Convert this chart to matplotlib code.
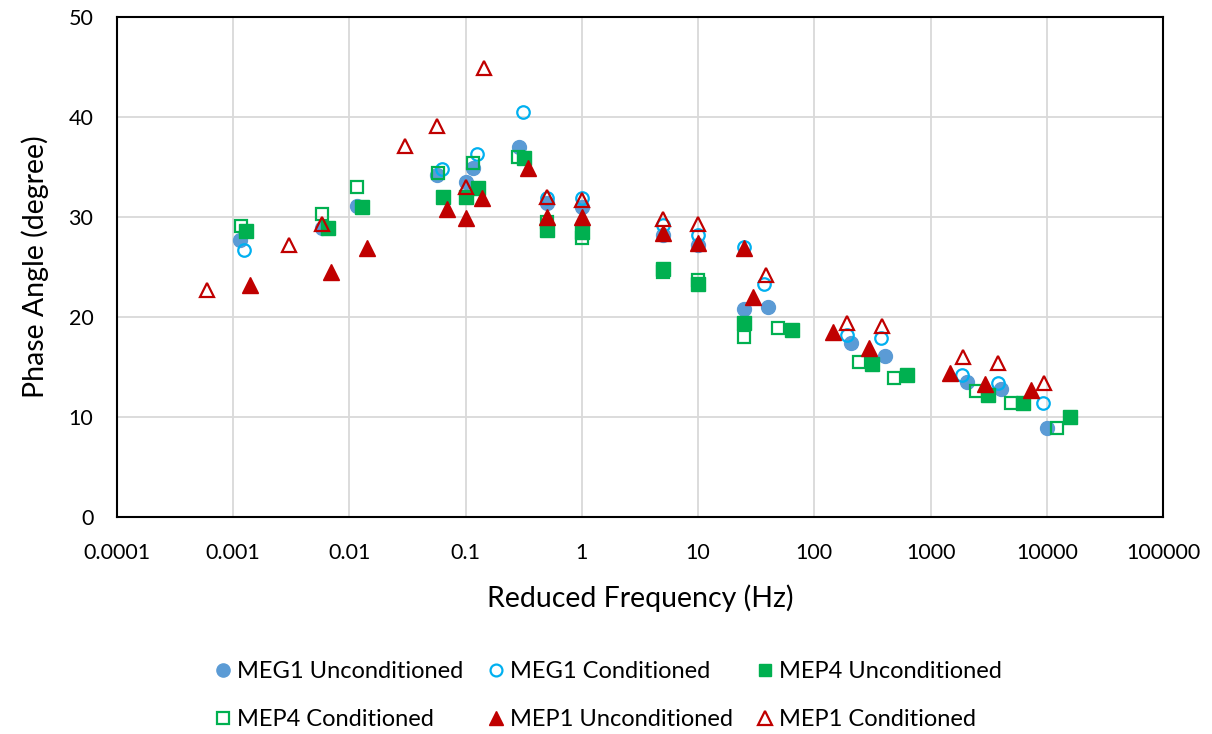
import matplotlib
matplotlib.use('Agg')
import matplotlib.pyplot as plt

plt.rcParams['font.family'] = ['Lato', 'DejaVu Sans']

# Reduced frequency (Hz) and phase angle (degree) per series
meg1_unc_x = [0.00114, 0.0058, 0.0116, 0.057, 0.1, 0.116, 0.288, 0.5, 1, 5, 10, 25, 40, 205, 405, 2040, 4050, 10000]
meg1_unc_y = [27.7, 28.9, 31.1, 34.2, 33.5, 34.9, 37.0, 31.4, 31.0, 28.2, 27.2, 20.8, 21.0, 17.4, 16.1, 13.5, 12.8, 8.9]

meg1_con_x = [0.00124, 0.0627, 0.125, 0.312, 0.5, 1, 5, 10, 25, 37, 190, 375, 1880, 3800, 9300]
meg1_con_y = [26.7, 34.8, 36.3, 40.5, 31.9, 31.9, 29.2, 28.2, 27.0, 23.3, 18.2, 17.9, 14.2, 13.4, 11.4]

mep4_unc_x = [0.00128, 0.0065, 0.0128, 0.064, 0.1, 0.128, 0.318, 0.5, 1, 5, 10, 25, 64, 314, 626, 3150, 6270, 15900]
mep4_unc_y = [28.6, 28.9, 31.0, 32.0, 32.0, 32.9, 35.9, 28.7, 28.5, 24.8, 23.3, 19.4, 18.7, 15.3, 14.2, 12.2, 11.4, 10.0]

mep4_con_x = [0.00117, 0.0058, 0.0116, 0.058, 0.116, 0.28, 0.5, 1, 5, 10, 25, 49, 243, 486, 2470, 4950, 12300]
mep4_con_y = [29.1, 30.3, 33.0, 34.4, 35.4, 36.0, 29.5, 27.9, 24.5, 23.7, 18.0, 18.9, 15.5, 13.9, 12.6, 11.4, 8.9]

mep1_unc_x = [0.0014, 0.007, 0.0142, 0.069, 0.1, 0.138, 0.345, 0.5, 1, 5, 10, 25, 29.7, 146, 296, 1475, 2950, 7340]
mep1_unc_y = [23.2, 24.5, 26.9, 30.8, 29.9, 31.9, 34.9, 30.0, 30.0, 28.4, 27.4, 26.9, 22.0, 18.5, 16.9, 14.4, 13.3, 12.7]

mep1_con_x = [0.0006, 0.003, 0.0058, 0.03, 0.057, 0.1, 0.144, 0.5, 1, 5, 10, 38.5, 192, 383, 1900, 3830, 9540]
mep1_con_y = [22.7, 27.2, 29.3, 37.1, 39.1, 33.0, 44.9, 32.0, 31.7, 29.8, 29.3, 24.2, 19.4, 19.1, 16.0, 15.4, 13.4]

x_ticks = [0.0001, 0.001, 0.01, 0.1, 1, 10, 100, 1000, 10000, 100000]
x_tick_labels = ["0.0001", "0.001", "0.01", "0.1", "1", "10", "100", "1000", "10000", "100000"]
y_ticks = [0, 10, 20, 30, 40, 50]

BLUE = "#5B9BD5"
CYAN = "#00B0F0"
GREEN = "#00B050"
RED = "#C00000"

fig = plt.figure(figsize=(12.12, 7.34), dpi=100)
ax = fig.add_axes([0.0965, 0.2956, 0.8631, 0.6812])

ms = 10
h1, = ax.plot(meg1_unc_x, meg1_unc_y, 'o', ms=ms, color=BLUE, mec=BLUE, label="MEG1 Unconditioned")
h2, = ax.plot(meg1_con_x, meg1_con_y, 'o', ms=ms - 1, mfc='none', mec=CYAN, mew=1.6, label="MEG1 Conditioned")
h3, = ax.plot(mep4_unc_x, mep4_unc_y, 's', ms=ms - 0.5, color=GREEN, mec=GREEN, label="MEP4 Unconditioned")
h4, = ax.plot(mep4_con_x, mep4_con_y, 's', ms=ms - 1, mfc='none', mec=GREEN, mew=1.6, label="MEP4 Conditioned")
h5, = ax.plot(mep1_unc_x, mep1_unc_y, '^', ms=ms + 1, color=RED, mec=RED, label="MEP1 Unconditioned")
h6, = ax.plot(mep1_con_x, mep1_con_y, '^', ms=ms, mfc='none', mec=RED, mew=1.6, label="MEP1 Conditioned")

ax.set_xscale('log')
ax.set_xlim(0.0001, 100000)
ax.set_ylim(0, 50)
ax.set_xticks(x_ticks)
ax.set_xticklabels(x_tick_labels)
ax.minorticks_off()
ax.set_yticks(y_ticks)
ax.tick_params(length=0, labelsize=15.5)
ax.tick_params(axis='x', pad=19)
ax.tick_params(axis='y', pad=17)
ax.grid(True, color="#D9D9D9", linewidth=1.3)
ax.set_axisbelow(True)
for s in ax.spines.values():
    s.set_linewidth(1.5)
    s.set_color("black")

ax.set_xlabel("Reduced Frequency (Hz)", fontsize=20.5, labelpad=15)
ax.set_ylabel("Phase Angle (degree)", fontsize=20.5, labelpad=14)

# legend: column-major fill, reorder so rows read left to right
handles = [h1, h4, h2, h5, h3, h6]
fig.legend(handles=handles, labels=[h.get_label() for h in handles],
           loc='center', bbox_to_anchor=(0.5, 0.052), ncol=3, frameon=False,
           fontsize=17, handletextpad=0.05, columnspacing=0.8, labelspacing=1.15,
           handlelength=1.1, markerscale=0.95)

fig.savefig("out.png", dpi=100)
